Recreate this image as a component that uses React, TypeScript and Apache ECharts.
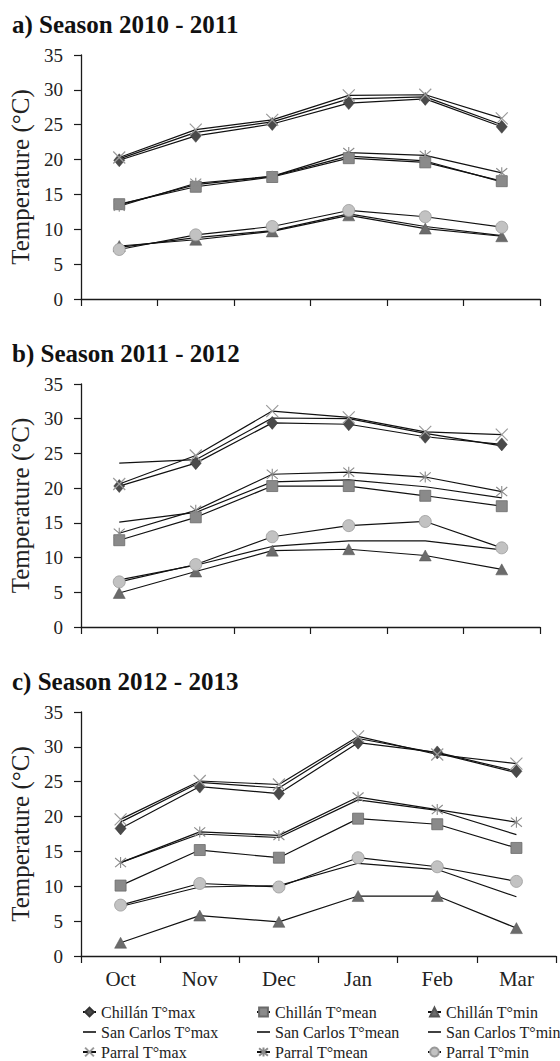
import React, { useEffect, useRef } from "react";
import * as echarts from "echarts";

const months = ["Oct", "Nov", "Dec", "Jan", "Feb", "Mar"];
const yTicks = [0, 5, 10, 15, 20, 25, 30, 35];
const panelTitles = ["a) Season 2010 - 2011", "b) Season 2011 - 2012", "c) Season 2012 - 2013"];

// Season 2010-2011
const chillanMaxA = [19.9, 23.4, 25.1, 28.1, 28.7, 24.7];
const sanCarlosMaxA = [20.1, 23.9, 25.4, 28.7, 29.0, 25.0];
const parralMaxA = [20.3, 24.3, 25.7, 29.2, 29.3, 25.9];
const chillanMeanA = [13.6, 16.1, 17.5, 20.2, 19.6, 16.9];
const sanCarlosMeanA = [13.5, 16.4, 17.6, 20.5, 19.8, 16.8];
const parralMeanA = [13.3, 16.6, 17.6, 21.0, 20.6, 18.1];
const chillanMinA = [7.6, 8.5, 9.7, 12.0, 10.1, 9.0];
const sanCarlosMinA = [7.4, 8.8, 9.8, 12.2, 10.4, 9.1];
const parralMinA = [7.1, 9.2, 10.4, 12.7, 11.8, 10.3];

// Season 2011-2012
const chillanMaxB = [20.3, 23.6, 29.4, 29.2, 27.4, 26.3];
const sanCarlosMaxB = [23.6, 24.1, 30.1, 30.0, 27.9, 26.1];
const parralMaxB = [20.6, 24.7, 31.1, 30.2, 28.1, 27.7];
const chillanMeanB = [12.5, 15.8, 20.3, 20.3, 18.9, 17.4];
const sanCarlosMeanB = [15.1, 16.5, 20.9, 21.2, 20.2, 18.6];
const parralMeanB = [13.5, 16.8, 22.0, 22.3, 21.6, 19.5];
const chillanMinB = [4.9, 8.0, 11.0, 11.2, 10.3, 8.3];
const sanCarlosMinB = [6.8, 8.9, 11.6, 12.4, 12.4, 11.1];
const parralMinB = [6.5, 9.0, 13.0, 14.6, 15.2, 11.4];

// Season 2012-2013
const chillanMaxC = [18.3, 24.3, 23.3, 30.6, 29.2, 26.5];
const sanCarlosMaxC = [19.2, 24.9, 24.1, 31.2, 29.1, 26.3];
const parralMaxC = [19.6, 25.1, 24.6, 31.5, 28.9, 27.6];
const chillanMeanC = [10.1, 15.2, 14.1, 19.7, 18.9, 15.5];
const sanCarlosMeanC = [13.4, 17.5, 17.0, 22.4, 20.9, 17.4];
const parralMeanC = [13.4, 17.8, 17.3, 22.8, 21.0, 19.2];
const chillanMinC = [1.9, 5.8, 4.9, 8.6, 8.6, 4.0];
const sanCarlosMinC = [7.1, 9.9, 10.1, 13.3, 12.4, 8.5];
const parralMinC = [7.3, 10.4, 9.9, 14.1, 12.8, 10.7];

const names = {
  cMax: "Chillán T°max",
  cMean: "Chillán T°mean",
  cMin: "Chillán T°min",
  sMax: "San Carlos T°max",
  sMean: "San Carlos T°mean",
  sMin: "San Carlos T°min",
  pMax: "Parral T°max",
  pMean: "Parral T°mean",
  pMin: "Parral T°min",
};

const FONT = "Liberation Serif";

const styles: Record<string, any> = {
  [names.sMax]: { symbol: "none" },
  [names.sMean]: { symbol: "none" },
  [names.sMin]: { symbol: "none" },
  [names.cMax]: { symbol: "diamond", symbolSize: [11, 13], itemStyle: { color: "#4a4a4a", borderColor: "#333", borderWidth: 0.5 } },
  [names.cMean]: { symbol: "rect", symbolSize: 11, itemStyle: { color: "#8a8a8a", borderColor: "#6a6a6a", borderWidth: 0.8 } },
  [names.cMin]: { symbol: "triangle", symbolSize: [12, 11], itemStyle: { color: "#6b6b6b", borderColor: "#555", borderWidth: 0.5 } },
  [names.pMax]: { symbol: "path://M0,0L10,10M10,0L0,10", symbolSize: 12, itemStyle: { color: "none", borderColor: "#9a9a9a", borderWidth: 1.2 } },
  [names.pMean]: { symbol: "path://M0,0L10,10M10,0L0,10M5,-1L5,11", symbolSize: 11, itemStyle: { color: "none", borderColor: "#8a8a8a", borderWidth: 1.1 } },
  [names.pMin]: { symbol: "circle", symbolSize: 12, itemStyle: { color: "#c2c2c2", borderColor: "#999", borderWidth: 0.8 } },
};

const panels = [
  {
    [names.sMax]: sanCarlosMaxA, [names.sMean]: sanCarlosMeanA, [names.sMin]: sanCarlosMinA,
    [names.cMax]: chillanMaxA, [names.cMean]: chillanMeanA, [names.cMin]: chillanMinA,
    [names.pMax]: parralMaxA, [names.pMean]: parralMeanA, [names.pMin]: parralMinA,
  },
  {
    [names.sMax]: sanCarlosMaxB, [names.sMean]: sanCarlosMeanB, [names.sMin]: sanCarlosMinB,
    [names.cMax]: chillanMaxB, [names.cMean]: chillanMeanB, [names.cMin]: chillanMinB,
    [names.pMax]: parralMaxB, [names.pMean]: parralMeanB, [names.pMin]: parralMinB,
  },
  {
    [names.sMax]: sanCarlosMaxC, [names.sMean]: sanCarlosMeanC, [names.sMin]: sanCarlosMinC,
    [names.cMax]: chillanMaxC, [names.cMean]: chillanMeanC, [names.cMin]: chillanMinC,
    [names.pMax]: parralMaxC, [names.pMean]: parralMeanC, [names.pMin]: parralMinC,
  },
];

const grids = [
  { left: 81, top: 55, width: 459, height: 244 },
  { left: 81, top: 384, width: 459, height: 243 },
  { left: 81, top: 712, width: 475, height: 244 },
];
const titleY = [24, 353, 681];

export default function App() {
  const ref = useRef<HTMLDivElement>(null);
  useEffect(() => {
    document.body.style.margin = "0";
    const chart = echarts.init(ref.current!, null, { renderer: "svg" });
    const axisLine = { show: true, lineStyle: { color: "#1a1a1a", width: 1.3 } };
    const series: any[] = [];
    panels.forEach((p, gi) => {
      Object.keys(p).forEach((n) => {
        series.push({
          type: "line",
          name: n,
          xAxisIndex: gi,
          yAxisIndex: gi,
          data: (p as any)[n],
          lineStyle: { color: "#111", width: 1.2 },
          color: "#111",
          showSymbol: true,
          ...styles[n],
        });
      });
    });
    const lineIcon = (name: string) => ({
      name,
      icon: "line",
      itemStyle: { color: "#111", borderColor: "#111", borderWidth: 1.6 },
    });
    const legendBase = {
      orient: "vertical",
      top: 1004,
      height: 80,
      itemGap: 4,
      itemWidth: 13,
      itemHeight: 11,
      padding: 0,
      selectedMode: false,
      textStyle: { fontFamily: FONT, fontSize: 16, color: "#222" },
    };
    chart.setOption({
      animation: false,
      backgroundColor: "#fff",
      textStyle: { fontFamily: FONT },
      grid: grids,
      graphic: panelTitles.map((t, i) => ({
        type: "text",
        x: 12,
        y: titleY[i],
        style: { text: t, font: `bold 25px ${FONT}`, fill: "#111", verticalAlign: "middle" },
      })),
      legend: [
        { ...legendBase, left: 82, data: [names.cMax, lineIcon(names.sMax), names.pMax] },
        { ...legendBase, left: 256, data: [names.cMean, lineIcon(names.sMean), names.pMean] },
        { ...legendBase, left: 427, data: [names.cMin, lineIcon(names.sMin), names.pMin] },
      ],
      xAxis: grids.map((_, gi) => ({
        type: "category",
        gridIndex: gi,
        data: months,
        boundaryGap: true,
        axisLine,
        axisTick: { show: true, length: 7, inside: false, lineStyle: { color: "#1a1a1a", width: 1.2 } },
        axisLabel: {
          show: gi === 2,
          margin: 12,
          fontFamily: FONT,
          fontSize: 21,
          color: "#222",
        },
        splitLine: { show: false },
      })),
      yAxis: grids.map((_, gi) => ({
        type: "value",
        gridIndex: gi,
        min: yTicks[0],
        max: yTicks[yTicks.length - 1],
        interval: 5,
        axisLine,
        axisTick: { show: true, length: 7, lineStyle: { color: "#1a1a1a", width: 1.2 } },
        axisLabel: { margin: 18, fontFamily: FONT, fontSize: 19, color: "#222" },
        splitLine: { show: false },
        name: "Temperature (°C)",
        nameLocation: "middle",
        nameRotate: 90,
        nameGap: 42,
        nameTextStyle: { fontFamily: FONT, fontSize: 25, color: "#222" },
      })),
      series,
    });
    return () => chart.dispose();
  }, []);
  return <div ref={ref} style={{ width: 560, height: 1061 }} />;
}
